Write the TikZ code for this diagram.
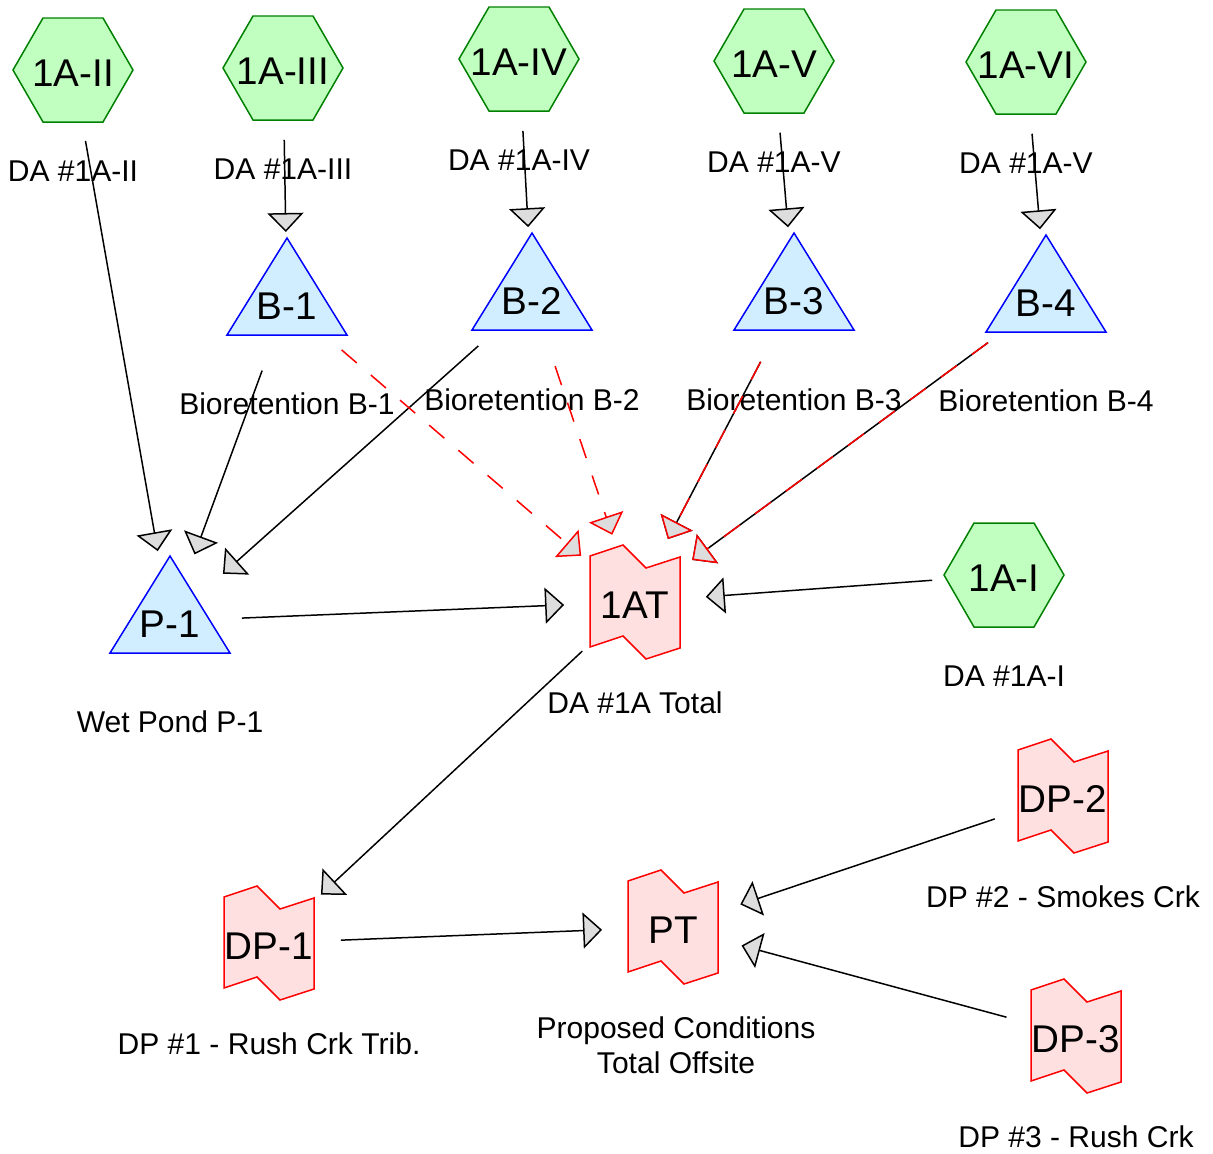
\documentclass[tikz,border=0pt]{standalone}
\usepackage{fontspec}
\setmainfont{Liberation Sans}
\usetikzlibrary{arrows.meta}

\definecolor{areafill}{HTML}{C0FFC0}
\definecolor{areadraw}{HTML}{008000}
\definecolor{pondfill}{HTML}{D0EEFF}
\definecolor{linkfill}{HTML}{FFE0E0}
\definecolor{tipfill}{HTML}{DDDDDD}

\begin{document}
\begin{tikzpicture}[x=0.02cm,y=-0.02cm,line join=miter]
    \tikzstyle{area}=[draw=areadraw,fill=areafill,line width=0.85pt]
    \tikzstyle{pond}=[draw=blue,fill=pondfill,line width=0.85pt]
    \tikzstyle{linkshape}=[draw=red,fill=linkfill,line width=0.85pt]
    \tikzstyle{nodetag}=[inner sep=0pt,text height=19.2pt,text depth=0pt,
        font=\fontsize{22}{26}\selectfont]
    \tikzstyle{annot}=[inner sep=0pt,font=\fontsize{17.1}{20}\selectfont,align=center]
    \tikzstyle{flow}=[line width=0.85pt,shorten <=1.44cm,shorten >=1.42cm,
        -{Triangle[length=0.38cm,width=0.72cm,fill=tipfill]}]
    \tikzstyle{secondary}=[flow,draw=red,dash pattern=on 0.4cm off 0.37cm]

    \useasboundingbox (0,0) rectangle (1213,1153);

    % Draw the drainage areas.
    \foreach \name/\x/\y in {1A-I/1004/575,1A-II/73/70,1A-III/283/68,
                             1A-IV/519/59,1A-V/774/61,1A-VI/1026/62} {
        \draw[area,shift={(\x,\y)}] (-60,0) -- (-30,-52) -- (30,-52)
            -- (60,0) -- (30,52) -- (-30,52) -- cycle;
        \node[nodetag] (\name) at (\x,\y) {\name};
    }

    % Draw the ponds.
    \foreach \name/\x/\y in {B-1/287/303,B-2/532/298,B-3/794/298,
                             B-4/1046/300,P-1/170/621} {
        \draw[pond,shift={(\x,\y)}] (0,-65) -- (60,32) -- (-60,32) -- cycle;
        \node[nodetag] (\name) at (\x,\y) {\name};
    }

    % Draw the links.
    \foreach \name/\x/\y in {1AT/635/602,DP-1/269/943,DP-2/1063/796,
                             DP-3/1076/1036,PT/673/927} {
        \draw[linkshape,shift={(\x,\y)}] (-45,-46) -- (-12,-57) -- (11,-34)
            -- (45,-45) -- (45,46) -- (11,57) -- (-12,34) -- (-45,45) -- cycle;
        \node[nodetag] (\name) at (\x,\y) {\name};
    }

    % Annotate the nodes.
    \foreach \name/\x/\y/\txt in {1A-I/1004/676/{DA \#1A-I},
            1A-II/73/171/{DA \#1A-II},1A-III/283/169/{DA \#1A-III},
            1A-IV/519/160/{DA \#1A-IV},1A-V/774/162/{DA \#1A-V},
            1A-VI/1026/163/{DA \#1A-V},
            B-1/287/404/{Bioretention B-1},B-2/532/400/{Bioretention B-2},
            B-3/794/400/{Bioretention B-3},B-4/1046/401/{Bioretention B-4},
            P-1/170/722/{Wet Pond P-1},1AT/635/703/{DA \#1A Total},
            DP-1/269/1044/{DP \#1 - Rush Crk Trib.},
            DP-2/1063/897/{DP \#2 - Smokes Crk},
            DP-3/1076/1137/{DP \#3 - Rush Crk},
            PT/676/1045/{Proposed Conditions\\Total Offsite}}
        \node[annot] (l-\name) at (\x,\y) {\txt};

    % Connect the nodes downstream.
    \foreach \source/\dest in {1A-II/P-1,1A-III/B-1,1A-IV/B-2,1A-V/B-3,
            1A-VI/B-4,B-1/P-1,B-2/P-1,B-3/1AT,B-4/1AT,P-1/1AT,1A-I/1AT,
            1AT/DP-1,DP-1/PT,DP-2/PT,DP-3/PT}
        \draw[flow] (\source.center) -- (\dest.center);

    % Secondary outlets of the bioretention ponds.
    \foreach \source in {B-1,B-2,B-3,B-4}
        \draw[secondary] (\source.center) -- (1AT.center);
\end{tikzpicture}
\end{document}
